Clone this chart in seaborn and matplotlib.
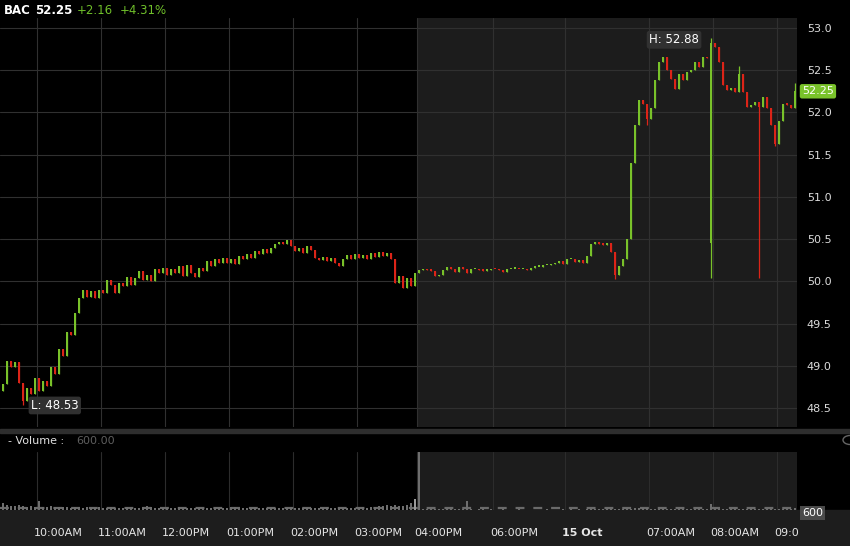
import numpy as np
import pandas as pd
import matplotlib
matplotlib.use("Agg")
import matplotlib.pyplot as plt
import matplotlib.transforms as mtransforms
import seaborn as sns
from matplotlib.patches import Rectangle, Circle

# closing prices, regular session (09:30-16:00) then extended hours
reg_close = [48.78, 49.06, 48.98, 49.04, 48.80, 48.58, 48.74, 48.66, 48.85, 48.70,
             48.82, 48.76, 48.98, 48.90, 49.20, 49.12, 49.40, 49.36, 49.62, 49.80,
             49.90, 49.82, 49.88, 49.80, 49.90, 49.86, 50.02, 49.96, 49.86, 49.98,
             49.94, 50.05, 49.96, 50.04, 50.12, 50.02, 50.08, 50.00, 50.14, 50.10,
             50.16, 50.08, 50.14, 50.10, 50.18, 50.06, 50.19, 50.10, 50.05, 50.16,
             50.12, 50.24, 50.18, 50.26, 50.22, 50.28, 50.22, 50.26, 50.20, 50.30,
             50.26, 50.32, 50.28, 50.36, 50.32, 50.38, 50.33, 50.40, 50.44, 50.47,
             50.44, 50.49, 50.42, 50.36, 50.40, 50.34, 50.42, 50.37, 50.28, 50.25,
             50.29, 50.24, 50.28, 50.22, 50.18, 50.27, 50.31, 50.26, 50.32, 50.28,
             50.31, 50.27, 50.33, 50.29, 50.35, 50.30, 50.33, 50.26, 49.98, 50.06,
             49.92, 50.04, 49.94, 50.10]
ext_close = [50.13, 50.14, 50.13, 50.12, 50.06, 50.08, 50.13, 50.17, 50.14, 50.11,
             50.17, 50.14, 50.10, 50.14, 50.15, 50.13, 50.12, 50.13, 50.15, 50.14,
             50.13, 50.11, 50.14, 50.15, 50.15, 50.14, 50.14, 50.13, 50.16, 50.17,
             50.17, 50.19, 50.19, 50.20, 50.22, 50.24, 50.20, 50.26, 50.27, 50.23,
             50.25, 50.22, 50.30, 50.44, 50.46, 50.44, 50.43, 50.45, 50.35, 50.08,
             50.18, 50.26, 50.50, 51.40, 51.85, 52.15, 52.10, 51.92, 52.05, 52.38,
             52.60, 52.66, 52.50, 52.40, 52.28, 52.45, 52.38, 52.48, 52.50, 52.60,
             52.54, 52.66, 52.64, 52.82, 52.78, 52.60, 52.33, 52.27, 52.29, 52.24,
             52.45, 52.24, 52.06, 52.09, 52.12, 52.06, 52.18, 52.05, 51.85, 51.63,
             51.90, 52.10, 52.09, 52.05, 52.25]
first_open = 48.70
open_fix = {177: 50.45}
low_fix = {5: 48.53, 153: 50.03, 161: 51.85, 177: 50.04, 189: 50.04, 193: 51.60}
high_fix = {177: 52.88, 184: 52.55, 198: 52.35}

reg_vol = [2100, 1500, 1300, 1200, 1400, 1100, 1000, 1200, 900, 2600, 1000, 900, 1100, 800, 900, 1000, 800, 700, 900, 800,
           700, 800, 650, 700, 900, 700, 600, 800, 700, 650, 700, 800, 600, 700, 650, 900, 1100, 800, 700, 650,
           700, 600, 650, 700, 800, 600, 700, 650, 600, 700, 600, 650, 700, 600, 550, 600, 700, 900, 800, 600,
           650, 600, 700, 600, 550, 700, 600, 650, 600, 700, 650, 600, 550, 600, 650, 600, 700, 600, 650, 700,
           600, 800, 650, 700, 600, 650, 700, 600, 700, 650, 800, 700, 900, 1000, 1200, 1300, 1400, 1100, 1600, 1300,
           1200, 1500, 2200, 3200]
ext_vol = [17500, 400, 300, 250, 200, 300, 250, 200, 300, 250, 200, 250, 2600, 200, 150, 200, 250, 150, 200, 150,
           150, 200, 150, 100, 150, 200, 150, 100, 150, 150, 100, 150, 200, 150, 100, 150, 200, 150, 200, 150,
           200, 150, 200, 250, 300, 250, 200, 300, 250, 200, 300, 250, 400, 300, 500, 600, 700, 500, 400, 350,
           300, 250, 300, 250, 300, 250, 200, 250, 300, 250, 200, 250, 300, 1900, 300, 250, 200, 250, 200, 300,
           250, 200, 250, 200, 300, 250, 200, 250, 200, 250, 300, 250, 200, 250, 600]
last_volume = 600

tick_idx = [8, 24, 40, 56, 72, 88, 103, 122, 140, 161, 177, 193]
tick_labels = ["10:00AM", "11:00AM", "12:00PM", "01:00PM", "02:00PM", "03:00PM",
               "04:00PM", "06:00PM", "15 Oct", "07:00AM", "08:00AM", "09:0"]

GREEN = "#79c22a"
RED = "#dc2418"

close = reg_close + ext_close
n = len(close)
df = pd.DataFrame({"i": np.arange(n), "close": close, "volume": reg_vol + ext_vol})
df["open"] = [first_open] + close[:-1]
for k, v in open_fix.items():
    df.loc[k, "open"] = v
df["low"] = df[["open", "close"]].min(axis=1)
df["high"] = df[["open", "close"]].max(axis=1)
for k, v in low_fix.items():
    df.loc[k, "low"] = v
for k, v in high_fix.items():
    df.loc[k, "high"] = v
df["up"] = df["close"] >= df["open"]

sns.set_theme(style="dark", rc={"axes.facecolor": "black", "figure.facecolor": "black"})
plt.rcParams["font.family"] = ["DejaVu Sans"]

W, H = 850, 546
fig = plt.figure(figsize=(W / 100, H / 100), dpi=100)
fig.patch.set_facecolor("black")

def fbox(x0, y0, x1, y1):
    return [x0 / W, 1 - y1 / H, (x1 - x0) / W, (y1 - y0) / H]

# bands behind everything
fig.patches.append(Rectangle((0, 0), 1, 36 / H, transform=fig.transFigure, color="#1d1d1d", zorder=-5))
fig.patches.append(Rectangle((0, 1 - 433 / H), 1, 4 / H, transform=fig.transFigure, color="#2e2e2e", zorder=-5))

xmin, xmax = -0.75, n - 0.5
grid_pos = [t + 0.5 for t in tick_idx]

# price panel
ax = fig.add_axes(fbox(0, 18, 797, 427))
ax.set_facecolor("black")
ax.axvspan(103.5, xmax, color="#1c1c1c", zorder=0.2, lw=0)
ax.set_xlim(xmin, xmax)
ax.set_ylim(48.275, 53.118)
ax.set_xticks(grid_pos)
ax.set_yticks(np.arange(48.5, 53.01, 0.5))
ax.yaxis.set_major_formatter(matplotlib.ticker.FormatStrFormatter("%.1f"))
ax.yaxis.tick_right()
ax.tick_params(axis="y", length=0, pad=7, labelsize=8, labelcolor="#dcdcdc")
ax.tick_params(axis="x", length=0, labelbottom=False)
ax.grid(True, color="#303030", lw=0.8, zorder=0.5)
ax.set_axisbelow(True)
for s in ax.spines.values():
    s.set_visible(False)

colors = np.where(df["up"], GREEN, RED)
ax.vlines(df["i"], df["low"], df["high"], colors=colors, lw=0.9, zorder=2)
body_lo = df[["open", "close"]].min(axis=1)
body_h = np.maximum((df["close"] - df["open"]).abs(), 0.02)
ax.bar(df["i"], body_h, bottom=body_lo, width=0.62, color=colors, lw=0, zorder=3)

lbl = dict(color="white", fontsize=8.5,
           bbox=dict(boxstyle="round,pad=0.2", fc="#333333", ec="none", alpha=0.95))
ax.annotate("H: 52.88", xy=(177, 52.86), xytext=(-12, 0), textcoords="offset pixels",
            ha="right", va="center", **lbl)
ax.annotate("L: 48.53", xy=(5, 48.53), xytext=(8, 0), textcoords="offset pixels",
            ha="left", va="center", **lbl)
ax.annotate("52.25", xy=(1, close[-1]), xycoords=("axes fraction", "data"),
            xytext=(5, 0), textcoords="offset pixels", ha="left", va="center",
            color="white", fontsize=8,
            bbox=dict(boxstyle="round,pad=0.2", fc=GREEN, ec="none"))

# volume panel
axv = fig.add_axes(fbox(0, 452, 797, 510))
axv.set_facecolor("black")
axv.axvspan(103.5, xmax, color="#1c1c1c", zorder=0.2, lw=0)
sns.barplot(data=df, x="i", y="volume", native_scale=True, color="#6e6e6e",
            width=0.6, linewidth=0, errorbar=None, ax=axv, zorder=2)
axv.patches[104].set_facecolor("#9a9a9a")
axv.axhline(last_volume, color="#6a6a6a", lw=1.6, ls=(0, (4, 4)), zorder=1.5)
axv.set_xlim(xmin, xmax)
axv.set_ylim(0, 17500)
axv.set_xlabel("")
axv.set_ylabel("")
axv.set_yticks([])
axv.set_xticks(grid_pos)
axv.set_xticklabels(tick_labels, ha="left")
axv.tick_params(axis="x", length=0, pad=13, labelsize=8, labelcolor="#e6e6e6")
shift = mtransforms.ScaledTranslation(-3 / 100, 0, fig.dpi_scale_trans)
for t in axv.get_xticklabels():
    t.set_transform(t.get_transform() + shift)
    if t.get_text() == "15 Oct":
        t.set_fontweight("bold")
axv.grid(True, axis="x", color="#2c2c2c", lw=0.8)
axv.grid(False, axis="y")
axv.set_axisbelow(True)
for s in axv.spines.values():
    s.set_visible(False)

fig.text(802 / W, 1 - 513 / H, "600", color="white", fontsize=8, va="center", ha="left",
         bbox=dict(boxstyle="square,pad=0.15", fc="#4a4a4a", ec="none"))

# header texts
fig.text(4 / W, 1 - 10 / H, "BAC", color="white", fontsize=8.5, fontweight="bold", va="center")
fig.text(35 / W, 1 - 10 / H, "52.25", color="white", fontsize=8.5, fontweight="bold", va="center")
fig.text(77 / W, 1 - 10 / H, "+2.16", color="#6fbf2a", fontsize=8.5, va="center")
fig.text(120 / W, 1 - 10 / H, "+4.31%", color="#6fbf2a", fontsize=8.5, va="center")
fig.text(8 / W, 1 - 441 / H, "- Volume :", color="#e0e0e0", fontsize=8, va="center")
fig.text(76 / W, 1 - 441 / H, "600.00", color="#5e5e5e", fontsize=8, va="center")
fig.patches.append(Circle((850 / W, 1 - 440 / H), 7 / W, transform=fig.transFigure,
                          fill=False, ec="#666666", lw=1))

fig.savefig("out.png", dpi=100, facecolor="black")
